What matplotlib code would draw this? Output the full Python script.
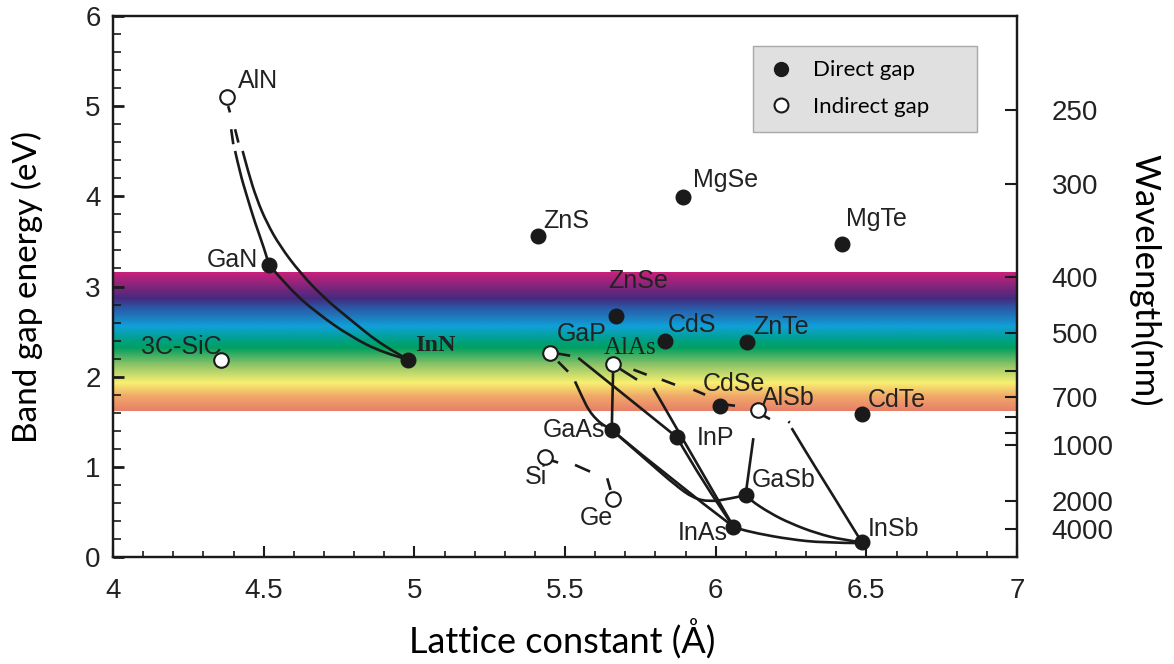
import numpy as np
import matplotlib.pyplot as plt
from matplotlib.colors import LinearSegmentedColormap
from matplotlib.lines import Line2D
from matplotlib.patches import PathPatch
from matplotlib.path import Path
from matplotlib.ticker import MultipleLocator

# -----------------------------
# Compounds: lattice constant (A), band gap (eV), indirect flag
# -----------------------------
names = ["AlN", "GaN", "InN", "3C-SiC", "ZnS", "MgSe", "MgTe", "ZnSe", "CdS",
         "ZnTe", "GaP", "AlAs", "CdSe", "AlSb", "CdTe", "GaAs", "InP", "Si",
         "Ge", "GaSb", "InAs", "InSb"]
lattice = [4.378, 4.518, 4.980, 4.358, 5.411, 5.892, 6.420, 5.669, 5.832,
           6.104, 5.450, 5.660, 6.015, 6.140, 6.486, 5.655, 5.871, 5.433,
           5.658, 6.099, 6.059, 6.485]
gap = [5.10, 3.24, 2.19, 2.19, 3.56, 3.99, 3.47, 2.67, 2.40,
       2.38, 2.26, 2.14, 1.67, 1.63, 1.59, 1.41, 1.33, 1.11,
       0.645, 0.685, 0.337, 0.165]
indirect = ["AlN", "3C-SiC", "GaP", "AlAs", "AlSb", "Si", "Ge"]

# alloy curves (solid parts)
alloy_curves = {
    "AlN-GaN": ([4.405, 4.421, 4.444, 4.471, 4.499, 4.518],
                [4.503, 4.263, 4.003, 3.708, 3.448, 3.24]),
    "AlN-InN": ([4.430, 4.449, 4.477, 4.510, 4.554, 4.621, 4.698, 4.787, 4.897, 4.980],
                [4.503, 4.263, 3.967, 3.708, 3.448, 3.152, 2.880, 2.633, 2.337, 2.19]),
    "GaN-InN": ([4.518, 4.587, 4.676, 4.787, 4.897, 4.980],
                [3.24, 2.967, 2.708, 2.448, 2.263, 2.19]),
    "GaP-GaAs": ([5.533, 5.561, 5.580, 5.605, 5.630, 5.655],
                 [1.948, 1.744, 1.622, 1.522, 1.456, 1.41]),
    "GaP-InP": ([5.544, 5.871], [2.208, 1.33]),
    "AlAs-GaAs": ([5.660, 5.655], [2.14, 1.41]),
    "AlAs-InAs": ([5.793, 6.059], [1.874, 0.337]),
    "InP-InAs": ([5.871, 5.958, 6.059], [1.33, 0.822, 0.337]),
    "GaAs-InAs": ([5.655, 5.862, 6.059], [1.41, 0.833, 0.337]),
    "GaAs-GaSb": ([5.655, 5.782, 5.865, 5.926, 5.981, 6.041, 6.099],
                  [1.41, 1.041, 0.80, 0.652, 0.614, 0.644, 0.685]),
    "AlSb-GaSb": ([6.125, 6.099], [1.319, 0.685]),
    "AlSb-InSb": ([6.252, 6.302, 6.357, 6.402, 6.446, 6.485],
                  [1.430, 1.152, 0.856, 0.614, 0.374, 0.165]),
    "GaSb-InSb": ([6.099, 6.114, 6.181, 6.248, 6.335, 6.424, 6.485],
                  [0.685, 0.633, 0.486, 0.374, 0.263, 0.189, 0.165]),
    "InAs-InSb": ([6.059, 6.070, 6.136, 6.247, 6.357, 6.485],
                  [0.337, 0.319, 0.263, 0.197, 0.159, 0.155]),
}

# short dashes (indirect-gap parts): x0, y0, x1, y1
dash_segments = [
    (4.382, 5.00, 4.388, 4.93), (4.392, 4.744, 4.399, 4.578),
    (4.405, 4.744, 4.416, 4.596),
    (5.477, 2.167, 5.510, 2.056), (5.477, 2.256, 5.517, 2.233),
    (5.676, 2.100, 5.739, 1.967),
    (5.727, 2.078, 5.771, 2.022), (5.821, 1.967, 5.865, 1.911),
    (5.926, 1.856, 5.965, 1.800), (6.038, 1.689, 6.064, 1.678),
    (6.144, 1.596, 6.180, 1.530), (6.241, 1.503, 6.246, 1.490),
    (5.449, 1.078, 5.477, 1.048), (5.533, 1.022, 5.583, 0.948),
    (5.640, 0.874, 5.651, 0.744),
]

# visible band (eV) and its colours
band_energy = [1.62, 1.78, 1.93, 2.13, 2.32, 2.41, 2.56, 2.76, 2.87, 3.16]
band_colors = ["#e8806a", "#f0a868", "#f8f070", "#90c468", "#00a060",
               "#00a088", "#10a0d8", "#2a5aa8", "#452a7e", "#c8207a"]

# right axis: wavelength ticks (nm)
wl_ticks = [250, 300, 400, 500, 600, 700, 800, 900, 1000, 2000, 4000]
wl_labels = [250, 300, 400, 500, 700, 1000, 2000, 4000]

# label offsets in pixels (dx, dy, ha)
label_offsets = {
    "AlN": (11, 16, "left"), "GaN": (-11, 5, "right"), "InN": (7, 14, "left"),
    "3C-SiC": (1, 13, "right"), "ZnS": (5, 15, "left"), "MgSe": (10, 17, "left"),
    "MgTe": (4, 25, "left"), "ZnSe": (-8, 35, "left"), "CdS": (3, 16, "left"),
    "ZnTe": (6, 15, "left"), "GaP": (7, 19, "left"), "AlAs": (-10, 16, "left"),
    "CdSe": (-17, 22, "left"), "AlSb": (4, 12, "left"), "CdTe": (6, 14, "left"),
    "GaAs": (-7, 0, "right"), "InP": (20, -1, "left"), "Si": (-20, -20, "left"),
    "Ge": (-33, -19, "left"), "GaSb": (6, 15, "left"), "InAs": (-56, -6, "left"),
    "InSb": (6, 13, "left"),
}

label_font = "Liberation Sans"
title_font = ["Lato", "DejaVu Sans"]
ink = "#1a1a1a"


def smooth_path(xs, ys):
    # quadratic B-spline with the read points as control points
    pts = list(zip(xs, ys))
    if len(pts) < 3:
        return Path(pts, [Path.MOVETO] + [Path.LINETO] * (len(pts) - 1))
    verts = [pts[0]]
    codes = [Path.MOVETO]
    for i in range(1, len(pts) - 2):
        mid = ((pts[i][0] + pts[i + 1][0]) / 2, (pts[i][1] + pts[i + 1][1]) / 2)
        verts += [pts[i], mid]
        codes += [Path.CURVE3, Path.CURVE3]
    verts += [pts[-2], pts[-1]]
    codes += [Path.CURVE3, Path.CURVE3]
    return Path(verts, codes)


fig = plt.figure(figsize=(11.74, 6.64), dpi=100)
ax = fig.add_axes([0.0963, 0.161, 0.770, 0.815])

# rainbow band
e0, e1 = band_energy[0], band_energy[-1]
stops = [(e - e0) / (e1 - e0) for e in band_energy]
cmap = LinearSegmentedColormap.from_list("vis", list(zip(stops, band_colors)))
grad = np.linspace(0, 1, 400).reshape(-1, 1)
ax.imshow(grad, cmap=cmap, origin="lower", aspect="auto",
          extent=[4, 7, e0, e1], zorder=0, interpolation="bilinear")

for key, (xs, ys) in alloy_curves.items():
    ax.add_patch(PathPatch(smooth_path(xs, ys), fill=False, edgecolor=ink,
                           lw=1.9, capstyle="butt", zorder=2))
for x0, y0, x1, y1 in dash_segments:
    ax.plot([x0, x1], [y0, y1], color=ink, lw=1.9, solid_capstyle="butt", zorder=2)

# markers and labels
for n, x, y in zip(names, lattice, gap):
    if n in indirect:
        ax.plot(x, y, "o", ms=10.5, mfc="white", mec=ink, mew=1.5, zorder=4)
    else:
        ax.plot(x, y, "o", ms=10.5, mfc=ink, mec=ink, zorder=4)
    dx, dy, ha = label_offsets[n]
    kw = dict(fontsize=18, family=label_font, color="#222222")
    if n == "InN":
        kw = dict(fontsize=17.5, family="Liberation Serif", weight="bold", color="#222222")
    elif n == "AlAs":
        kw = dict(fontsize=18, family="Liberation Serif", color="#222222")
    ax.annotate(n, (x, y), xytext=(dx, dy), textcoords="offset pixels",
                ha=ha, va="center", zorder=5, **kw)

ax.set_xlim(4, 7)
ax.set_ylim(0, 6)
ax.xaxis.set_major_locator(MultipleLocator(0.5))
ax.xaxis.set_minor_locator(MultipleLocator(0.1))
ax.yaxis.set_major_locator(MultipleLocator(1))
ax.yaxis.set_minor_locator(MultipleLocator(0.2))
ax.set_xticks(np.arange(4, 7.01, 0.5))
ax.set_xticklabels(["4", "4.5", "5", "5.5", "6", "6.5", "7"])
ax.tick_params(axis="both", which="both", direction="in", top=False, right=False,
               labelsize=20, colors=ink)
ax.tick_params(axis="x", which="major", length=8, width=1.5, pad=15)
ax.tick_params(axis="x", which="minor", length=4, width=1.2)
ax.tick_params(axis="y", which="major", length=8, width=2, pad=9)
ax.tick_params(axis="y", which="minor", length=6, width=1.2)
for lab in ax.get_xticklabels() + ax.get_yticklabels():
    lab.set_family(label_font)
    lab.set_color("#222222")
for sp in ax.spines.values():
    sp.set_linewidth(1.6)
    sp.set_color(ink)

ax.set_xlabel("Lattice constant (Å)", family=title_font, fontsize=26, va="center")
ax.xaxis.set_label_coords(0.497, -0.153)
ax.set_ylabel("Band gap energy (eV)", family=title_font, fontsize=24, va="center")
ax.yaxis.set_label_coords(-0.095, 0.499)

# right wavelength axis
ax2 = ax.twinx()
ax2.set_ylim(ax.get_ylim())
ax2.set_yticks([1240 / w for w in wl_ticks])
ax2.set_yticklabels([str(w) if w in wl_labels else "" for w in wl_ticks])
ax2.tick_params(axis="y", direction="in", length=9, width=1.5, pad=25,
                labelsize=20, colors=ink)
for lab in ax2.get_yticklabels():
    lab.set_family(label_font)
    lab.set_color("#222222")
ax2.set_ylabel("Wavelength(nm)", family=title_font, fontsize=25,
               rotation=270, va="center", ha="center")
ax2.yaxis.set_label_coords(1.1416, 0.512)
for sp in ax2.spines.values():
    sp.set_linewidth(1.6)
    sp.set_color(ink)

# legend
handles = [
    Line2D([], [], ls="none", marker="o", ms=10, mfc=ink, mec=ink),
    Line2D([], [], ls="none", marker="o", ms=10, mfc="white", mec=ink, mew=1.5),
]
leg = ax.legend(handles, ["Direct gap", "Indirect gap"], loc="upper left",
                bbox_to_anchor=(0.708, 0.782, 0.248, 0.1625), mode="expand",
                borderaxespad=0, fancybox=False, framealpha=1,
                facecolor="#e0e0e0", edgecolor="#a8a8a8",
                prop={"family": title_font, "size": 16},
                handlelength=1.2, handletextpad=0.85, labelspacing=0.75,
                borderpad=0.65)
leg.get_frame().set_linewidth(1.0)
leg.set_zorder(6)

fig.savefig("out.png", dpi=100)
